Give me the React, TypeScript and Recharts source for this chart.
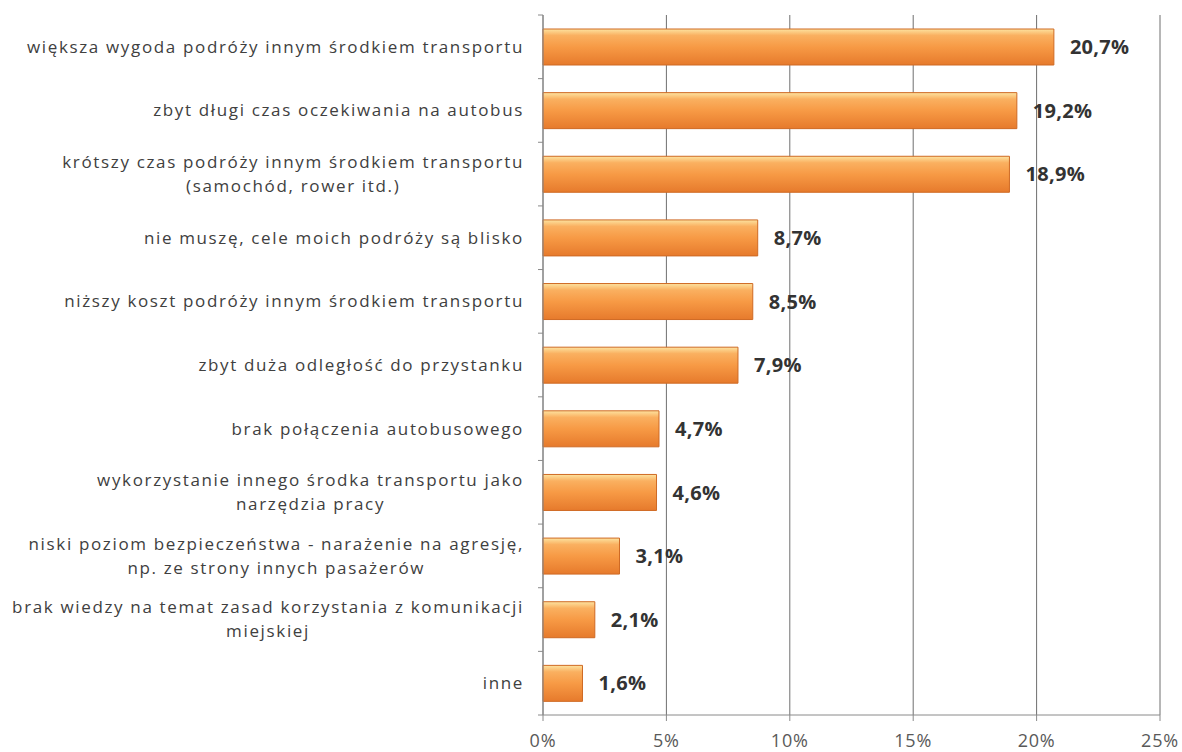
import React from 'react';
import { BarChart, Bar, XAxis, YAxis, CartesianGrid, LabelList } from 'recharts';

const categories: string[] = [
  'większa wygoda podróży innym środkiem transportu',
  'zbyt długi czas oczekiwania na autobus',
  'krótszy czas podróży innym środkiem transportu\n(samochód, rower itd.)',
  'nie muszę, cele moich podróży są blisko',
  'niższy koszt podróży innym środkiem transportu',
  'zbyt duża odległość do przystanku',
  'brak połączenia autobusowego',
  'wykorzystanie innego środka transportu jako\nnarzędzia pracy',
  'niski poziom bezpieczeństwa - narażenie na agresję,\nnp. ze strony innych pasażerów',
  'brak wiedzy na temat zasad korzystania z komunikacji\nmiejskiej',
  'inne',
];
const values: number[] = [20.7, 19.2, 18.9, 8.7, 8.5, 7.9, 4.7, 4.6, 3.1, 2.1, 1.6];
const xTicks: number[] = [0, 5, 10, 15, 20, 25];

const data = categories.map((c, i) => ({ name: c, value: values[i] }));

const CHART_W = 1182;
const CHART_H = 752;
const MARGIN = { top: 15, right: 22, bottom: 7, left: 0 };
const X_AXIS_H = 30;
const Y_AXIS_W = 543;
const PLOT_H = CHART_H - MARGIN.top - MARGIN.bottom - X_AXIS_H;

const FONT = '"Open Sans", sans-serif';
const LABEL_SIZE = 17;
const LETTER = 1.65;

let ctx: CanvasRenderingContext2D | null = null;
function measure(t: string): number {
  if (!ctx) {
    const c = document.createElement('canvas');
    ctx = c.getContext('2d');
  }
  if (!ctx) return t.length * 9;
  ctx.font = `${LABEL_SIZE}px "Open Sans"`;
  return ctx.measureText(t).width + LETTER * t.length;
}

const CategoryTick = (props: any) => {
  const { y, payload, index, visibleTicksCount } = props;
  const axisX = MARGIN.left + Y_AXIS_W;
  const right = axisX - 19;
  const half = PLOT_H / (visibleTicksCount || categories.length) / 2;
  const lines: string[] = String(payload.value).split('\n');
  const lh = 24;
  const w1 = measure(lines[0]);
  const cx = right - w1 / 2;
  const startY = y - ((lines.length - 1) * lh) / 2;
  const isLast = index === (visibleTicksCount || categories.length) - 1;
  return (
    <g>
      <line x1={axisX - 5} x2={axisX} y1={y - half} y2={y - half} stroke="#8a8a8a" />
      {isLast && <line x1={axisX - 5} x2={axisX} y1={y + half} y2={y + half} stroke="#8a8a8a" />}
      {lines.map((l, i) => (
        <text
          key={i}
          x={lines.length > 1 ? cx : right}
          y={startY + i * lh}
          dy="0.35em"
          textAnchor={lines.length > 1 ? 'middle' : 'end'}
          fill="#404040"
          fontSize={LABEL_SIZE}
          fontFamily={FONT}
          letterSpacing={LETTER}
        >
          {l}
        </text>
      ))}
    </g>
  );
};

export default function App() {
  return (
    <div style={{ position: 'absolute', left: 0, top: 0, background: '#fff' }}>
      <BarChart
        width={CHART_W}
        height={CHART_H}
        data={data}
        layout="vertical"
        margin={MARGIN}
        barSize={36}
      >
        <defs>
          <linearGradient id="barGrad" x1="0" y1="0" x2="0" y2="1">
            <stop offset="0%" stopColor="#fde3a0" />
            <stop offset="18%" stopColor="#fab060" />
            <stop offset="50%" stopColor="#f79a45" />
            <stop offset="100%" stopColor="#e67a2c" />
          </linearGradient>
        </defs>
        <CartesianGrid horizontal={false} stroke="#6f6f6f" strokeWidth={1} />
        <XAxis
          type="number"
          domain={[0, 25]}
          ticks={xTicks}
          tickFormatter={(v: number) => `${v}%`}
          axisLine={{ stroke: '#8a8a8a' }}
          tickLine={{ stroke: '#8a8a8a' }}
          tickSize={6}
          tickMargin={13}
          height={X_AXIS_H}
          tick={{ fill: '#595959', fontSize: 18, fontFamily: FONT, letterSpacing: 0.8 }}
          interval={0}
        />
        <YAxis
          type="category"
          dataKey="name"
          width={Y_AXIS_W}
          axisLine={{ stroke: '#8a8a8a' }}
          tickLine={false}
          tick={<CategoryTick />}
          interval={0}
        />
        <Bar
          dataKey="value"
          fill="url(#barGrad)"
          stroke="#cf6a24"
          strokeWidth={1}
          isAnimationActive={false}
        >
          <LabelList
            dataKey="value"
            position="right"
            offset={16}
            formatter={(v: any) => `${String(v).replace('.', ',')}%`}
            style={{ fill: '#333333', fontSize: 20, fontWeight: 700, fontFamily: FONT, letterSpacing: 0.3 }}
          />
        </Bar>
      </BarChart>
    </div>
  );
}
